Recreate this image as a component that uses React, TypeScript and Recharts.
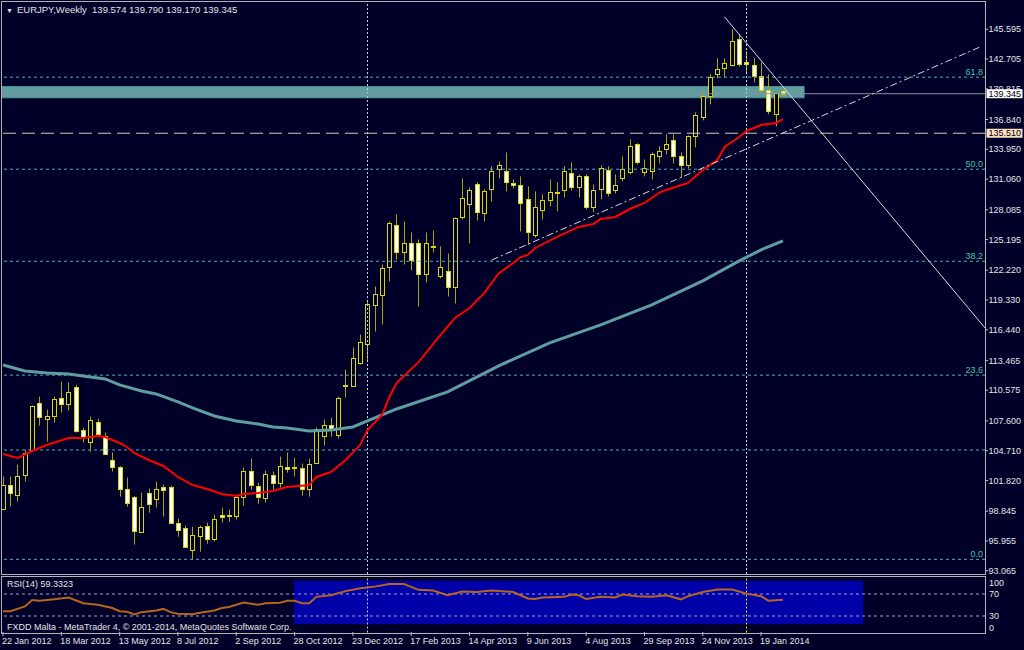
import React from 'react';
import {
  ComposedChart,
  Bar,
  Line,
  XAxis,
  YAxis,
  ReferenceLine,
  ReferenceArea,
} from 'recharts';

// weekly EURJPY candles, 22 Jan 2012 .. 9 Feb 2014
const open = [
  99.1, 101.4, 100.45, 102.39, 104.82, 109.38, 107.83, 108.12, 109.86, 109.28,
  110.93, 106.76, 105.6, 107.53, 106.18, 103.85, 103.17, 101.03, 100.26, 96.86,
  100.64, 100.06, 101.23, 101.23, 97.73, 97.24, 95.11, 96.47, 97.44, 96.18,
  98.5, 98.4, 98.41, 100.26, 102.78, 101.32, 100.16, 102.39, 101.62, 103.17,
  103.1, 103.07, 101.03, 103.56, 106.18, 107.24, 106.27, 111.0, 111.03, 113.26,
  115.11, 118.89, 119.77, 122.58, 126.57, 123.94, 124.91, 124.91, 121.81, 124.6,
  121.62, 122.1, 120.64, 127.34, 128.6, 130.55, 127.73, 130.06, 132.0, 131.81,
  130.65, 130.45, 129.09, 125.59, 128.02, 128.99, 129.77, 129.96, 131.61, 130.25,
  131.32, 128.31, 130.06, 131.91, 129.96, 131.13, 131.71, 134.43, 131.71, 131.81,
  133.27, 133.94, 134.82, 133.27, 132.39, 135.21, 137.05, 139.09, 141.23, 141.81,
  142.1, 144.62, 142.39, 142.1, 141.03, 139.67, 137.34, 139.574,
];
const high = [
  102.2, 102.2, 103.36, 104.82, 109.1, 109.96, 108.7, 109.96, 111.42, 111.32,
  111.1, 106.95, 108.02, 107.83, 106.47, 104.53, 103.2, 102.1, 100.3, 100.64,
  101.03, 101.71, 101.42, 101.3, 98.12, 97.44, 97.34, 97.44, 97.73, 98.5,
  99.19, 99.0, 100.45, 103.07, 103.94, 101.62, 102.78, 102.68, 104.14, 104.53,
  104.04, 103.46, 103.94, 106.95, 107.73, 107.93, 109.96, 112.58, 114.72, 115.98,
  119.19, 120.64, 122.78, 126.95, 127.63, 126.95, 125.89, 125.2, 125.89, 126.08,
  124.53, 123.84, 127.34, 131.13, 130.25, 130.74, 130.06, 132.3, 132.78, 133.65,
  131.03, 131.32, 130.35, 129.86, 129.58, 131.03, 130.74, 132.3, 132.68, 131.52,
  131.52, 130.55, 132.39, 132.3, 131.52, 133.27, 134.92, 134.53, 132.97, 133.65,
  134.24, 135.4, 135.4, 133.65, 135.3, 137.54, 139.57, 141.23, 142.78, 142.78,
  145.6, 145.11, 143.46, 142.78, 142.39, 141.23, 139.48, 139.79,
];
const low = [
  99.0, 99.3, 99.77, 101.71, 104.7, 107.15, 105.6, 107.44, 108.41, 108.6,
  106.47, 105.5, 104.62, 106.08, 104.33, 102.68, 100.26, 99.28, 95.6, 96.76,
  98.7, 99.19, 98.31, 97.63, 96.37, 95.3, 94.14, 94.91, 95.69, 95.9,
  97.73, 97.83, 98.02, 99.38, 100.93, 99.57, 99.67, 100.93, 101.13, 102.58,
  102.2, 100.35, 100.26, 103.46, 105.21, 106.08, 105.89, 109.86, 110.93, 113.07,
  113.36, 116.27, 116.95, 121.13, 123.26, 122.78, 122.2, 118.7, 121.03, 123.94,
  121.42, 119.67, 118.99, 127.14, 124.82, 127.05, 126.95, 128.89, 131.13, 129.86,
  130.16, 125.98, 124.72, 125.4, 127.14, 128.41, 127.93, 129.28, 129.96, 129.28,
  128.12, 127.83, 129.09, 129.38, 129.67, 130.84, 131.52, 132.49, 131.32, 131.03,
  132.58, 133.46, 132.58, 131.23, 132.1, 134.14, 136.76, 138.31, 140.84, 140.93,
  142.0, 141.99, 141.23, 140.45, 139.48, 137.34, 136.18, 139.17,
];
const close = [
  101.4, 100.6, 102.29, 104.53, 109.0, 108.02, 108.12, 109.77, 109.28, 110.45,
  106.66, 106.08, 107.73, 106.37, 104.43, 103.17, 101.03, 99.67, 96.95, 99.28,
  99.57, 101.03, 100.93, 97.73, 97.05, 95.4, 96.57, 97.34, 96.18, 98.12,
  98.31, 98.5, 100.26, 102.78, 101.42, 100.26, 102.49, 101.62, 103.26, 102.97,
  103.0, 101.03, 103.46, 106.86, 107.24, 106.76, 109.86, 111.05, 113.75, 115.3,
  118.99, 119.96, 122.39, 126.76, 123.94, 124.91, 123.17, 121.81, 124.82, 124.5,
  122.58, 120.64, 127.24, 129.19, 129.96, 127.83, 129.86, 131.81, 132.4, 130.74,
  130.45, 128.7, 125.89, 128.31, 128.99, 129.77, 129.67, 131.81, 130.25, 131.32,
  128.31, 129.96, 132.1, 129.67, 130.45, 132.0, 134.24, 132.68, 132.1, 133.46,
  133.75, 134.43, 133.27, 132.39, 135.21, 137.24, 139.09, 140.93, 141.71, 142.29,
  144.43, 142.2, 142.2, 141.03, 139.67, 137.63, 139.38, 139.345,
];

// moving averages read at sample weeks: [week index, price]
const fastMa: [number, number][] = [
  [0, 104.39], [2, 104.0], [4, 104.68], [6, 105.26], [9, 105.94], [11, 105.94],
  [13, 106.13], [14, 106.04], [16, 105.46], [17, 105.07], [18, 104.49], [20, 103.81],
  [22, 103.23], [24, 102.16], [26, 101.38], [28, 100.99], [30, 100.51], [32, 100.31],
  [33, 100.51], [35, 100.6], [37, 100.8], [39, 101.19], [42, 101.38], [43, 102.16],
  [45, 102.64], [47, 103.81], [49, 105.26], [50, 106.72], [52, 108.18], [53, 109.92],
  [54, 111.28], [57, 113.3], [60, 115.93], [62, 117.58], [64, 118.55], [66, 120.0],
  [68, 121.9], [70, 122.92], [71, 123.5], [72, 123.7], [73, 124.38], [76, 125.45],
  [79, 126.42], [81, 126.71], [82, 127.19], [84, 127.39], [86, 128.16], [88, 128.75],
  [89, 129.23], [90, 129.72], [91, 130.01], [94, 130.69], [96, 131.95], [98, 132.92],
  [99, 134.18], [101, 135.15], [102, 135.73], [104, 136.31], [106, 136.5], [107, 136.89],
];
const slowMa: [number, number][] = [
  [0, 113.03], [3, 112.45], [6, 112.26], [9, 112.16], [12, 111.87], [14, 111.67],
  [16, 111.09], [19, 110.51], [21, 110.22], [24, 109.44], [26, 108.86], [29, 108.08],
  [32, 107.6], [35, 107.3], [37, 107.01], [39, 106.92], [42, 106.63], [45, 106.72],
  [48, 107.01], [50, 107.6], [54, 108.76], [61, 110.42], [68, 112.94], [75, 115.18],
  [82, 116.92], [89, 118.86], [96, 121.19], [101, 123.13], [104, 124.2], [107, 125.07],
];

// RSI(14) read at sample weeks: [week index, value]
const rsi14: [number, number][] = [
  [0, 38.7], [1, 38.7], [3, 47.4], [4, 59], [5, 57.8], [7, 60.3], [9, 63.7], [11, 53.3],
  [12, 52], [13, 50.3], [15, 44.6], [16, 38.7], [17, 37.6], [18, 33], [19, 37], [21, 39.9],
  [22, 42.9], [23, 37], [24, 34.2], [26, 33], [27, 35.9], [29, 39.9], [30, 44.6], [31, 46.3],
  [33, 54.3], [35, 50.3], [36, 53.3], [38, 54.3], [39, 57.8], [40, 57.8], [41, 53.3], [42, 53.3],
  [43, 64.8], [45, 67.7], [47, 75.2], [49, 80.4], [51, 83.4], [53, 88], [55, 88], [57, 77.6],
  [59, 76.4], [61, 67.7], [63, 74.7], [65, 73.5], [67, 76.4], [69, 74.7], [70, 73.5], [72, 62],
  [73, 60.8], [74, 63.7], [77, 64.8], [78, 69], [79, 67.7], [80, 60.8], [82, 64.8], [84, 63.7],
  [85, 69], [87, 66], [89, 64.8], [91, 67.7], [93, 60.3], [94, 66], [96, 73.5], [98, 78.2],
  [100, 78.2], [102, 70.7], [104, 66], [105, 57.8], [107, 59.33],
];

const priceTicks = [
  145.595, 142.705, 139.815, 136.84, 133.95, 131.06, 128.085, 125.195, 122.22, 119.33,
  116.44, 113.465, 110.575, 107.6, 104.71, 101.82, 98.845, 95.955, 93.065,
];
// marked prices shown in boxes on the price scale
const bidPrice = 139.345;
const levelPrice = 135.51;
const dateTicks = [0, 8, 16, 24, 32, 40, 48, 56, 64, 72, 80, 88, 96, 104];
const dateLabels = [
  '22 Jan 2012', '18 Mar 2012', '13 May 2012', '8 Jul 2012', '2 Sep 2012', '28 Oct 2012',
  '23 Dec 2012', '17 Feb 2013', '14 Apr 2013', '9 Jun 2013', '4 Aug 2013', '29 Sep 2013',
  '24 Nov 2013', '19 Jan 2014',
];
const fibLevels = [
  { label: '61.8', price: 140.95 },
  { label: '50.0', price: 132.02 },
  { label: '38.2', price: 123.09 },
  { label: '23.6', price: 112.04 },
  { label: '0.0', price: 94.17 },
];
const rsiTicks = [0, 30, 70, 100];

const BG = '#000028';
const FONT = '"Liberation Sans", Arial, sans-serif';
const FS = 9;
const TXT = '#e4e4e4';
const X_DOMAIN: [number, number] = [-0.14, 134.72];

const rows = open.map((o, i) => ({
  i,
  open: o,
  high: high[i],
  low: low[i],
  close: close[i],
  fast: null as number | null,
  slow: null as number | null,
}));
fastMa.forEach(([i, v]) => { rows[i].fast = v; });
slowMa.forEach(([i, v]) => { rows[i].slow = v; });
const rsiRows = rsi14.map(([i, v]) => ({ i, rsi: v }));

const Candle = (props: any) => {
  const { x, y, width, height, payload } = props;
  if (x == null || !payload) return null;
  const top = Math.min(y, y + height);
  const h = Math.abs(height);
  const range = payload.high - payload.low || 1;
  const py = (p: number) => top + ((payload.high - p) / range) * h;
  const cx = Math.round(x + width / 2) + 0.5;
  const yo = py(payload.open);
  const yc = py(payload.close);
  const bt = Math.round(Math.min(yo, yc)) + 0.5;
  const bb = Math.max(Math.round(Math.max(yo, yc)) + 0.5, bt + 1);
  const up = payload.close >= payload.open;
  return (
    <g>
      <line x1={cx} x2={cx} y1={top} y2={top + h} stroke="#a8a800" />
      <rect x={cx - 2} y={bt} width={4} height={bb - bt} fill={up ? BG : '#ffffff'} stroke="#d8d800" />
    </g>
  );
};

const PriceTick = ({ x, y, payload }: any) => {
  const v = payload.value;
  if (v === bidPrice || v === levelPrice) {
    const bg = v === bidPrice ? '#ffffff' : '#fbe0c4';
    return (
      <g>
        <rect x={x - 1.5} y={y - 4.5} width={36} height={9} fill={bg} />
        <text x={x + 0.5} y={y} dy="0.35em" fill="#000000" fontSize={FS} fontFamily={FONT}>
          {v.toFixed(3)}
        </text>
      </g>
    );
  }
  return (
    <g>
      <line x1={x - 3} x2={x} y1={y} y2={y} stroke="#c0c0c0" />
      <text x={x + 0.5} y={y} dy="0.35em" fill={TXT} fontSize={FS} fontFamily={FONT}>
        {v.toFixed(3)}
      </text>
    </g>
  );
};

const FibLabel = ({ viewBox, text }: any) => {
  if (!viewBox) return null;
  return (
    <text x={viewBox.x + viewBox.width - 2} y={viewBox.y - 2.5} textAnchor="end" fill="#3cc8b0" fontSize={FS} fontFamily={FONT}>
      {text}
    </text>
  );
};

const DateTick = ({ x, y, index }: any) => (
  <g>
    <line x1={x} x2={x} y1={y - 0.5} y2={y + 3.5} stroke="#c0c0c0" />
    <text x={x - 1} y={y + 11} fill={TXT} fontSize={FS} fontFamily={FONT}>
      {dateLabels[index] ?? ''}
    </text>
  </g>
);

const RsiTick = ({ x, y, payload }: any) => {
  const shift = payload.value === 100 ? 5 : payload.value === 0 ? -5 : payload.value === 70 ? -0.5 : 0;
  return (
    <text x={x + 1} y={y + shift} dy="0.35em" fill={TXT} fontSize={FS} fontFamily={FONT}>
      {payload.value}
    </text>
  );
};

export default function App() {
  return (
    <div style={{ position: 'absolute', left: 0, top: 0, width: 1024, height: 650, background: BG, overflow: 'hidden', fontFamily: FONT }}>
      <div style={{ position: 'absolute', left: 0, top: 0 }}>
        <ComposedChart width={1024} height={576} data={rows} margin={{ top: 2, right: 0, bottom: 2, left: 2 }}>
          <XAxis dataKey="i" type="number" domain={X_DOMAIN} allowDataOverflow hide />
          <YAxis
            orientation="right"
            type="number"
            domain={[92.747, 148.244]}
            allowDataOverflow
            ticks={[...priceTicks, levelPrice, bidPrice]}
            interval={0}
            width={39}
            axisLine={false}
            tickLine={false}
            tickSize={3}
            tickMargin={0}
            tick={<PriceTick />}
          />
          <ReferenceLine x={50} stroke="#d0d0d0" strokeDasharray="2 2" />
          <ReferenceLine x={102} stroke="#d0d0d0" strokeDasharray="2 2" />
          {fibLevels.map((f) => (
            <ReferenceLine key={f.label} y={f.price} stroke="#4fb0b8" strokeDasharray="3 3" label={<FibLabel text={f.label} />} />
          ))}
          <ReferenceLine y={104.78} stroke="#4fb0b8" strokeDasharray="3 3" />
          <ReferenceLine y={bidPrice} stroke="#8c8ca0" />
          <ReferenceArea x1={-0.14} x2={109.9} y1={138.95} y2={140.05} fill="#5f9ea0" fillOpacity={1} stroke="#4f8e90" ifOverflow="hidden" />
          <ReferenceLine y={levelPrice} stroke="#d8c8b4" strokeDasharray="13 6" />
          <Line dataKey="slow" type="linear" stroke="#5f9ea0" strokeWidth={3} dot={false} connectNulls isAnimationActive={false} />
          <Line dataKey="fast" type="linear" stroke="#ff0000" strokeWidth={2} dot={false} connectNulls isAnimationActive={false} />
          <ReferenceLine
            segment={[{ x: 98.96, y: 146.82 }, { x: 134.72, y: 116.62 }]}
            stroke="#d8d8d8"
          />
          <ReferenceLine
            segment={[{ x: 67.04, y: 123.21 }, { x: 134.13, y: 143.91 }]}
            stroke="#d8d8d8"
            strokeDasharray="7 3 2 3"
          />
          <Bar dataKey={(d: any) => [d.low, d.high]} barSize={5} shape={<Candle />} isAnimationActive={false} />
        </ComposedChart>
      </div>

      <div style={{ position: 'absolute', left: 0, top: 576 }}>
        <ComposedChart width={1024} height={74} data={rsiRows} margin={{ top: 1.5, right: 0, bottom: 0, left: 2 }}>
          <XAxis
            dataKey="i"
            type="number"
            domain={X_DOMAIN}
            allowDataOverflow
            ticks={dateTicks}
            interval={0}
            height={17.5}
            axisLine={false}
            tickLine={false}
            tickSize={0}
            tickMargin={0}
            tick={<DateTick />}
          />
          <YAxis
            orientation="right"
            type="number"
            domain={[0, 100]}
            ticks={rsiTicks}
            interval={0}
            width={39}
            axisLine={false}
            tickLine={false}
            tickSize={3}
            tickMargin={0}
            tick={<RsiTick />}
          />
          <ReferenceArea x1={39.9} x2={118} y1={15.5} y2={94.2} fill="#0000a8" fillOpacity={1} />
          <ReferenceLine y={70} stroke="#a0a0c8" strokeDasharray="3 3" />
          <ReferenceLine y={30} stroke="#a0a0c8" strokeDasharray="3 3" />
          <ReferenceLine x={50} stroke="#d0d0d0" strokeDasharray="2 2" />
          <ReferenceLine x={102} stroke="#e8e800" strokeDasharray="2 2" />
          <Line dataKey="rsi" type="linear" stroke="#b5651d" strokeWidth={2} dot={false} isAnimationActive={false} />
        </ComposedChart>
      </div>

      {/* panel frames */}
      <div style={{ position: 'absolute', left: 1, top: 1, width: 985, height: 574, border: '1px solid #b4b4b4', boxSizing: 'border-box', pointerEvents: 'none' }} />
      <div style={{ position: 'absolute', left: 1, top: 576, width: 985, height: 58, border: '1px solid #b4b4b4', boxSizing: 'border-box', pointerEvents: 'none' }} />

      <div style={{ position: 'absolute', left: 6, top: 4, color: TXT, fontSize: 9.5, whiteSpace: 'pre', lineHeight: '12px' }}>
        <span style={{ fontSize: 7, marginRight: 4 }}>▼</span>EURJPY,Weekly  139.574 139.790 139.170 139.345
      </div>
      <div style={{ position: 'absolute', left: 7, top: 578, color: TXT, fontSize: FS, whiteSpace: 'pre', lineHeight: '12px' }}>
        RSI(14) 59.3323
      </div>
      <div style={{ position: 'absolute', left: 7, top: 621, color: TXT, fontSize: FS, whiteSpace: 'pre', lineHeight: '12px' }}>
        FXDD Malta - MetaTrader 4, © 2001-2014, MetaQuotes Software Corp.
      </div>
    </div>
  );
}
